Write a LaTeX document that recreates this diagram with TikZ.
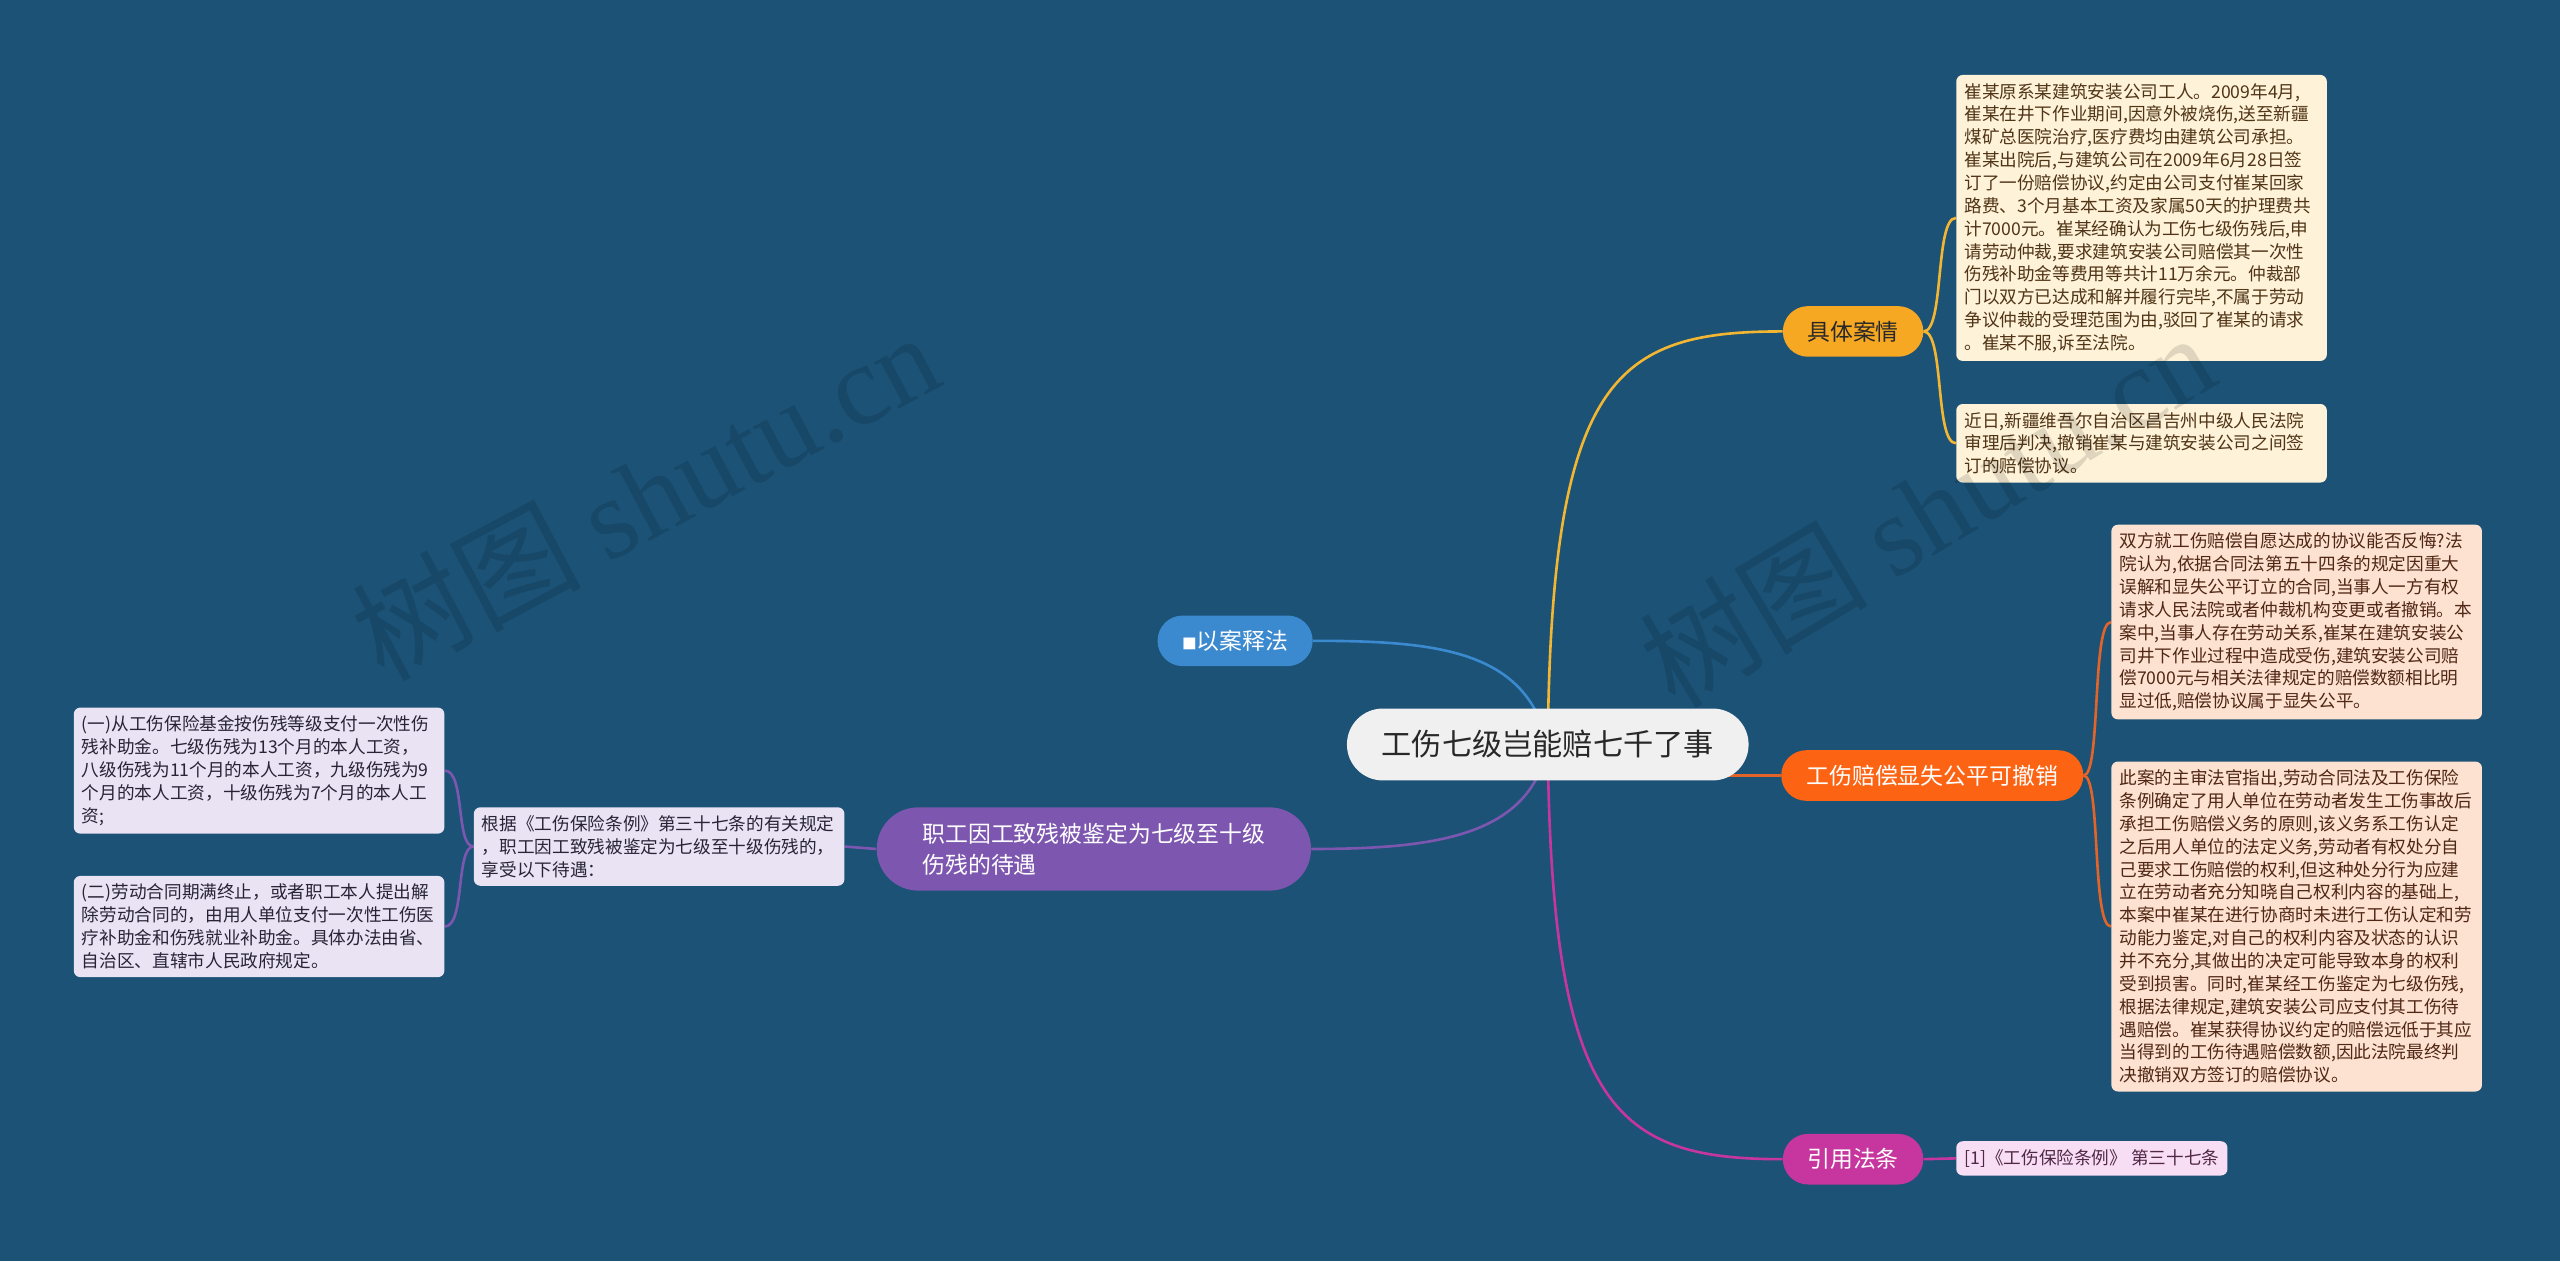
\documentclass[tikz,border=0pt]{standalone}
\usepackage{fontspec}
\setmainfont{Noto Sans CJK SC}
\newfontfamily\wmfont{Liberation Serif}
\definecolor{bgblue}{RGB}{27,82,118}
\definecolor{rootfill}{RGB}{240,240,240}
\definecolor{roottext}{RGB}{40,40,40}
\definecolor{pblue}{RGB}{59,137,207}
\definecolor{pyellow}{RGB}{247,168,35}
\definecolor{porange}{RGB}{252,100,20}
\definecolor{pmag}{RGB}{199,54,158}
\definecolor{ppurple}{RGB}{125,87,175}
\definecolor{casefill}{RGB}{254,242,216}
\definecolor{casetext}{RGB}{80,52,22}
\definecolor{rfill}{RGB}{253,226,210}
\definecolor{rtext}{RGB}{80,38,20}
\definecolor{citefill}{RGB}{248,222,244}
\definecolor{citetext}{RGB}{80,40,70}
\definecolor{lavfill}{RGB}{233,227,243}
\definecolor{lavtext}{RGB}{40,35,55}
\definecolor{cyellow}{RGB}{242,182,50}
\definecolor{cblue}{RGB}{59,137,207}
\definecolor{corange}{RGB}{226,100,40}
\definecolor{cmag}{RGB}{199,54,158}
\definecolor{cpurple}{RGB}{125,87,175}
\pgfdeclarelayer{bg}
\pgfdeclarelayer{fg}
\pgfsetlayers{bg,main,fg}
\begin{document}
\begin{tikzpicture}[x=1pt,y=-1pt,
  root/.style={rectangle, rounded corners=21.9pt, fill=rootfill, text=roottext, minimum width=246pt, minimum height=44pt, inner sep=0pt, font=\fontsize{18.5}{20}\selectfont},
  pill/.style={rectangle, rounded corners=15.4pt, minimum height=31pt, inner sep=0pt, text=white, font=\fontsize{14}{19}\selectfont},
  box/.style={rectangle, rounded corners=4pt, inner xsep=5pt, inner ysep=5pt, text width=217pt, align=left, anchor=west, font=\fontsize{10.8}{14}\selectfont},
  conn/.style={line width=1.6pt},
  wm/.style={text=black, opacity=0.12, font=\fontsize{70}{70}\selectfont}]
\begin{pgfonlayer}{bg}
\fill[bgblue] (0,0) rectangle (1568,772.4);
\end{pgfonlayer}
\useasboundingbox (0,0) rectangle (1568,772.4);

\node[root] (c) at (948,456) {工伤七级岂能赔七千了事};
\node[pill, fill=pblue, minimum width=95pt] (case) at (756.5,392.5) {{\fontsize{9}{9}\selectfont ■}以案释法};
\node[pill, fill=pyellow, text=roottext, minimum width=86pt] (k) at (1135,203) {具体案情};
\node[pill, fill=porange, minimum width=185pt] (o) at (1183.5,475) {工伤赔偿显失公平可撤销};
\node[pill, fill=pmag, minimum width=86pt] (y) at (1135,710) {引用法条};
\node[pill, fill=ppurple, minimum width=266pt, minimum height=51pt, rounded corners=25.4pt, align=left] (p) at (670,520) {职工因工致残被鉴定为七级至十级\\伤残的待遇};

\node[box, fill=casefill, text=casetext] (b1) at (1198,133.5) {崔某原系某建筑安装公司工人。2009年4月,\\崔某在井下作业期间,因意外被烧伤,送至新疆\\煤矿总医院治疗,医疗费均由建筑公司承担。\\崔某出院后,与建筑公司在2009年6月28日签\\订了一份赔偿协议,约定由公司支付崔某回家\\路费、3个月基本工资及家属50天的护理费共\\计7000元。崔某经确认为工伤七级伤残后,申\\请劳动仲裁,要求建筑安装公司赔偿其一次性\\伤残补助金等费用等共计11万余元。仲裁部\\门以双方已达成和解并履行完毕,不属于劳动\\争议仲裁的受理范围为由,驳回了崔某的请求\\。崔某不服,诉至法院。};
\node[box, fill=casefill, text=casetext] (b2) at (1198,271.5) {近日,新疆维吾尔自治区昌吉州中级人民法院\\审理后判决,撤销崔某与建筑安装公司之间签\\订的赔偿协议。};
\node[box, fill=rfill, text=rtext] (r1) at (1293,381) {双方就工伤赔偿自愿达成的协议能否反悔?法\\院认为,依据合同法第五十四条的规定因重大\\误解和显失公平订立的合同,当事人一方有权\\请求人民法院或者仲裁机构变更或者撤销。本\\案中,当事人存在劳动关系,崔某在建筑安装公\\司井下作业过程中造成受伤,建筑安装公司赔\\偿7000元与相关法律规定的赔偿数额相比明\\显过低,赔偿协议属于显失公平。};
\node[box, fill=rfill, text=rtext] (r2) at (1293,567.5) {此案的主审法官指出,劳动合同法及工伤保险\\条例确定了用人单位在劳动者发生工伤事故后\\承担工伤赔偿义务的原则,该义务系工伤认定\\之后用人单位的法定义务,劳动者有权处分自\\己要求工伤赔偿的权利,但这种处分行为应建\\立在劳动者充分知晓自己权利内容的基础上,\\本案中崔某在进行协商时未进行工伤认定和劳\\动能力鉴定,对自己的权利内容及状态的认识\\并不充分,其做出的决定可能导致本身的权利\\受到损害。同时,崔某经工伤鉴定为七级伤残,\\根据法律规定,建筑安装公司应支付其工伤待\\遇赔偿。崔某获得协议约定的赔偿远低于其应\\当得到的工伤待遇赔偿数额,因此法院最终判\\决撤销双方签订的赔偿协议。};
\node[rectangle, rounded corners=4pt, inner xsep=5pt, inner ysep=5pt, anchor=west, fill=citefill, text=citetext, font=\fontsize{10.8}{13}\selectfont] (cite) at (1198,709.5) {[1]《工伤保险条例》 第三十七条};
\node[box, fill=lavfill, text=lavtext] (m) at (290,518.5) {根据《工伤保险条例》第三十七条的有关规定\\，职工因工致残被鉴定为七级至十级伤残的，\\享受以下待遇：};
\node[box, fill=lavfill, text=lavtext] (l1) at (45,472) {(一)从工伤保险基金按伤残等级支付一次性伤\\残补助金。七级伤残为13个月的本人工资，\\八级伤残为11个月的本人工资，九级伤残为9\\个月的本人工资，十级伤残为7个月的本人工\\资;};
\node[box, fill=lavfill, text=lavtext] (l2) at (45,567.5) {(二)劳动合同期满终止，或者职工本人提出解\\除劳动合同的，由用人单位支付一次性工伤医\\疗补助金和伤残就业补助金。具体办法由省、\\自治区、直辖市人民政府规定。};

\begin{pgfonlayer}{bg}
\draw[conn, cyellow] (c.center) .. controls (950,230) and (990,203) .. (k.west);
\draw[conn, cblue] (c.center) .. controls (935,398) and (880,392.5) .. (case.east);
\draw[conn, corange] (c.center |- o.west) -- (o.west);
\draw[conn, cmag] (c.center) .. controls (950,680) and (990,710) .. (y.west);
\draw[conn, cpurple] (c.center) .. controls (938,512) and (880,520) .. (p.east);
\draw[conn, cyellow] (k.east) .. controls (1191,203) and (1185,133.5) .. (b1.west);
\draw[conn, cyellow] (k.east) .. controls (1191,203) and (1185,271.5) .. (b2.west);
\draw[conn, corange] (o.east) .. controls (1287,475) and (1281,381) .. (r1.west);
\draw[conn, corange] (o.east) .. controls (1287,475) and (1281,567.5) .. (r2.west);
\draw[conn, cmag] (y.east) -- (cite.west);
\draw[conn, cpurple] (p.west) -- (m.east);
\draw[conn, cpurple] (m.west) .. controls (279,518.5) and (285,472) .. (l1.east);
\draw[conn, cpurple] (m.west) .. controls (279,518.5) and (285,567.5) .. (l2.east);
\end{pgfonlayer}

\begin{pgfonlayer}{fg}
\node[wm, rotate=28] (w1) at (395,303) {树图 {\wmfont shutu.cn}};
\node[wm, rotate=31] (w2) at (1180,312) {树图 {\wmfont shutu.cn}};
\end{pgfonlayer}
\end{tikzpicture}
\end{document}
